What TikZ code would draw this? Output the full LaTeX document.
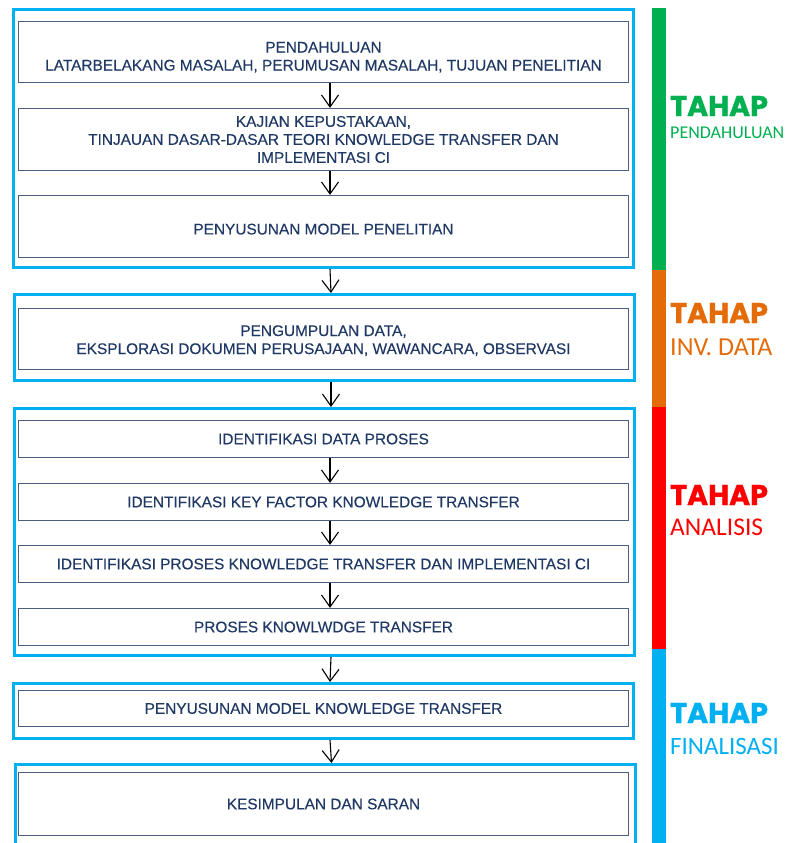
\documentclass[tikz,border=0pt]{standalone}
\usepackage{fontspec}
\setmainfont{Liberation Sans}[FakeBold=0.3]
\newfontfamily\tahapfont{Poppins}[BoldFeatures={FakeBold=1.2}]
\newfontfamily\subfont{Carlito}
\usetikzlibrary{arrows.meta}

\definecolor{biru}{HTML}{00B0F0}
\definecolor{hijau}{HTML}{00B050}
\definecolor{oranye}{HTML}{E36C09}
\definecolor{merah}{HTML}{FF0000}
\definecolor{garis}{HTML}{4B5F83}
\definecolor{teks}{HTML}{1F3864}

\tikzset{
  langkah/.style={draw=garis, line width=1.2pt, minimum width=610pt, inner sep=0pt,
    align=center, text=teks, font=\fontsize{15.4}{18}\selectfont},
  grup/.style={draw=biru, line width=3pt, minimum width=620pt, inner sep=0pt},
  panah/.style={-{Straight Barb[length=12pt,width=17pt]}, line width=1.1pt},
  judul/.style={anchor=west, inner sep=0pt, font=\tahapfont\bfseries\fontsize{28.6}{28}\selectfont},
  subjudul/.style={anchor=west, inner sep=0pt},
}

\begin{document}
\begin{tikzpicture}[x=1pt, y=-1pt]
    \useasboundingbox (0,0) rectangle (787,843);
    % Kelompok tahap
    \node[grup, minimum height=258pt] (grup1) at (323.5,138.5) {};
    \node[grup, minimum height=86pt] (grup2) at (324.5,337.5) {};
    \node[grup, minimum height=247pt] (grup3) at (324.5,532) {};
    \node[grup, minimum height=55pt] (grup4) at (323.5,711) {};
    \node[grup, minimum height=96pt] (grup5) at (325,812.5) {};
    % Langkah penelitian
    \node[langkah, minimum height=61pt] (pendahuluan) at (323.5,52)
        {\rule{0pt}{21pt}PENDAHULUAN\\LATARBELAKANG MASALAH, PERUMUSAN MASALAH, TUJUAN PENELITIAN};
    \node[langkah, minimum height=62pt] (kajian) at (323.5,139.5)
        {KAJIAN KEPUSTAKAAN,\\TINJAUAN DASAR-DASAR TEORI KNOWLEDGE TRANSFER DAN\\IMPLEMENTASI CI};
    \node[langkah, minimum height=62pt] (model) at (323.5,226.5) {\rule{0pt}{16pt}PENYUSUNAN MODEL PENELITIAN};
    \node[langkah, minimum height=61pt] (data) at (323.5,339)
        {\rule{0pt}{14pt}PENGUMPULAN DATA,\\EKSPLORASI DOKUMEN PERUSAJAAN, WAWANCARA, OBSERVASI};
    \node[langkah, minimum height=37pt] (proses) at (323.5,439) {IDENTIFIKASI DATA PROSES};
    \node[langkah, minimum height=37pt] (faktor) at (323.5,502) {IDENTIFIKASI KEY FACTOR KNOWLEDGE TRANSFER};
    \node[langkah, minimum height=37pt] (implementasi) at (323.5,564)
        {IDENTIFIKASI PROSES KNOWLEDGE TRANSFER DAN IMPLEMENTASI CI};
    \node[langkah, minimum height=37pt] (transfer) at (323.5,627) {PROSES KNOWLWDGE TRANSFER};
    \node[langkah, minimum height=36pt] (modelkt) at (323.5,708.5) {PENYUSUNAN MODEL KNOWLEDGE TRANSFER};
    \node[langkah, minimum height=63pt] (kesimpulan) at (323.5,804) {KESIMPULAN DAN SARAN};
    % Panah
    \foreach \a/\b in {pendahuluan/kajian, kajian/model, grup1/grup2, grup2/grup3,
        proses/faktor, faktor/implementasi, implementasi/transfer, grup3/grup4, grup4/grup5}
        \draw[panah] ([xshift=6.5pt]\a.south) -- ([xshift=6.5pt]\b.north);
    % Batang warna
    \fill[hijau] (652,8) rectangle (666,270);
    \fill[oranye] (652,270) rectangle (666,407);
    \fill[merah] (652,407) rectangle (666,649);
    \fill[biru] (652,649) rectangle (666,843);
    % Label tahap
    \node[judul, text=hijau] (tahap1) at (670,106) {TAHAP};
    \node[subjudul, text=hijau, font=\subfont\fontsize{18}{18}\selectfont] (nama1) at (670,133) {PENDAHULUAN};
    \node[judul, text=oranye] (tahap2) at (670,313) {TAHAP};
    \node[subjudul, text=oranye, font=\subfont\fontsize{26}{26}\selectfont] (nama2) at (670,347) {INV. DATA};
    \node[judul, text=merah] (tahap3) at (670,495) {TAHAP};
    \node[subjudul, text=merah, font=\subfont\fontsize{25.5}{25}\selectfont] (nama3) at (670,527) {ANALISIS};
    \node[judul, text=biru] (tahap4) at (670,713) {TAHAP};
    \node[subjudul, text=biru, font=\subfont\fontsize{25}{25}\selectfont] (nama4) at (670,746) {FINALISASI};
\end{tikzpicture}
\end{document}
